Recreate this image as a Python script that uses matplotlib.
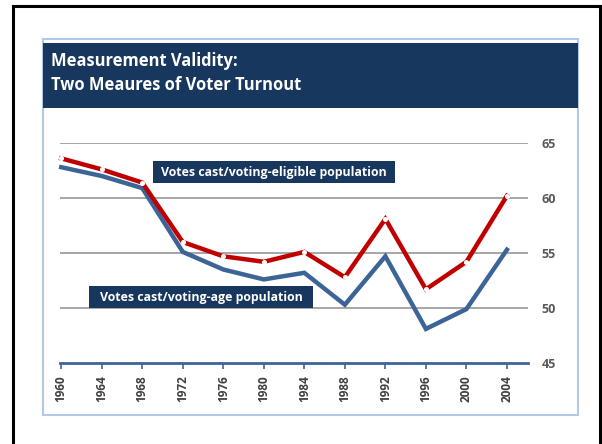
import matplotlib.pyplot as plt
from matplotlib.patches import Rectangle
from matplotlib.lines import Line2D

# Data
years = ['1960', '1964', '1968', '1972', '1976', '1980', '1984', '1988',
         '1992', '1996', '2000', '2004']
vep_turnout = [63.6, 62.6, 61.4, 56.0, 54.7, 54.2, 55.1, 52.8, 58.1, 51.7, 54.2, 60.2]
vap_turnout = [62.8, 62.0, 60.9, 55.1, 53.5, 52.6, 53.2, 50.3, 54.7, 48.1, 49.9, 55.3]
yticks = [45, 50, 55, 60, 65]

title_lines = ['Measurement Validity:', 'Two Meaures of Voter Turnout']
label_vep = 'Votes cast/voting-eligible population'
label_vap = 'Votes cast/voting-age population'

navy = '#17375E'
red = '#C00000'
blue = '#3C6497'
grey_txt = '#595959'

W, H = 602, 444
plt.rcParams['font.family'] = ['Open Sans', 'DejaVu Sans']
fig = plt.figure(figsize=(W / 100, H / 100), dpi=100)


def fx(px):
    return px / W


def fy(py):
    return 1 - py / H


def px_rect(x0, y0, x1, y1, **kw):
    return Rectangle((fx(x0), fy(y1)), fx(x1) - fx(x0), fy(y0) - fy(y1),
                     transform=fig.transFigure, **kw)


# outer black frame (open at the bottom)
for xs, ys in [([13, 13], [6, 444]), ([13, 600], [6, 6]), ([600, 600], [6, 444])]:
    fig.add_artist(Line2D([fx(x) for x in xs], [fy(y) for y in ys],
                          color='black', lw=2.2, transform=fig.transFigure, zorder=0))

# light blue panel and title banner
fig.add_artist(px_rect(43, 39, 578, 415, facecolor='white', edgecolor='#B4C7E7',
                       lw=1.5, zorder=0))
fig.add_artist(px_rect(43, 43, 578, 108, facecolor=navy, edgecolor='none', zorder=0))
fig.text(fx(51), fy(61), title_lines[0], color='white', fontsize=11.9,
         fontweight='bold', va='center', ha='left')
fig.text(fx(51), fy(85), title_lines[1], color='white', fontsize=11.9,
         fontweight='bold', va='center', ha='left')

# plotting area
ax = fig.add_axes([fx(60), fy(363), fx(528) - fx(60), fy(143) - fy(363)])
ax.set_zorder(2)
ax.set_facecolor('none')
x = list(range(len(years)))

for v in yticks[1:]:
    ax.axhline(v, color='#A6A6A6', lw=1.4, zorder=1)

ax.plot(x, vap_turnout, color=blue, lw=3.2, solid_joinstyle='miter', zorder=3, clip_on=False)
ax.plot(x, vep_turnout, color=red, lw=3.2, solid_joinstyle='miter', zorder=4, clip_on=False,
        marker='o', markersize=2.6, markerfacecolor='white', markeredgecolor='white')

ax.set_xlim(-0.03, 11.52)
ax.set_ylim(45, 65)

for s in ['top', 'left', 'right']:
    ax.spines[s].set_visible(False)
ax.spines['bottom'].set_color(blue)
ax.spines['bottom'].set_linewidth(2)

ax.set_xticks(x)
ax.set_xticklabels(years, rotation=90, fontsize=8.5, fontweight='bold', color='#404040')
ax.tick_params(axis='x', direction='out', length=4, width=1.2, color=blue, pad=5)

ax.yaxis.tick_right()
ax.set_yticks(yticks)
ax.set_yticklabels([str(v) for v in yticks], fontsize=9, fontweight='bold', color=grey_txt)
ax.tick_params(axis='y', length=0, pad=10)

# series labels in navy boxes
fig.add_artist(px_rect(153, 161, 395, 183, facecolor=navy, edgecolor='none', zorder=5))
fig.text(fx(274), fy(172), label_vep, color='white', fontsize=8.9, fontweight='bold',
         ha='center', va='center', zorder=6)
fig.add_artist(px_rect(89, 286, 313, 308, facecolor=navy, edgecolor='none', zorder=5))
fig.text(fx(201), fy(297), label_vap, color='white', fontsize=8.9, fontweight='bold',
         ha='center', va='center', zorder=6)

fig.savefig('out.png', dpi=100)
